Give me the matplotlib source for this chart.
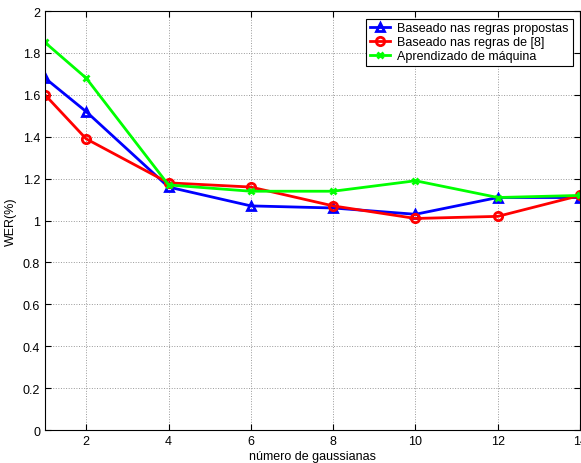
import matplotlib
matplotlib.use("Agg")
import matplotlib.pyplot as plt

plt.rcParams["font.family"] = ["Liberation Sans", "DejaVu Sans"]

# number of gaussians vs WER
gauss = [1, 2, 4, 6, 8, 10, 12, 14]
wer_propostas = [1.68, 1.52, 1.16, 1.07, 1.06, 1.03, 1.11, 1.11]
wer_ref8 = [1.60, 1.39, 1.18, 1.16, 1.07, 1.01, 1.02, 1.12]
wer_maquina = [1.85, 1.68, 1.17, 1.14, 1.14, 1.19, 1.11, 1.12]

labels = ["Baseado nas regras propostas", "Baseado nas regras de [8]",
          "Aprendizado de máquina"]
xticks = [2, 4, 6, 8, 10, 12, 14]
yticks = [0, 0.2, 0.4, 0.6, 0.8, 1, 1.2, 1.4, 1.6, 1.8, 2]

fig = plt.figure(figsize=(5.81, 4.64), dpi=100)
ax = fig.add_axes([0.0775, 0.071, 0.921, 0.903])

ax.plot(gauss, wer_propostas, color="#0000ff", lw=2, marker="^", ms=6,
        mfc="none", mew=2, label=labels[0])
ax.plot(gauss, wer_ref8, color="#ff0000", lw=2, marker="o", ms=6,
        mfc="none", mew=2, label=labels[1])
ax.plot(gauss, wer_maquina, color="#00ff00", lw=2, marker="x", ms=5,
        mew=2, label=labels[2])

ax.set_xlim(1, 14)
ax.set_ylim(0, 2)
ax.set_xticks(xticks)
ax.set_yticks(yticks)
ax.set_yticklabels(["0", "0.2", "0.4", "0.6", "0.8", "1", "1.2", "1.4",
                    "1.6", "1.8", "2"])
ax.tick_params(direction="in", top=True, right=True, labelsize=9, length=4)
ax.grid(True, ls=":", color="#999999", lw=0.7)
ax.set_xlabel("número de gaussianas", fontsize=9, labelpad=2)
ax.set_ylabel("WER(%)", fontsize=9, labelpad=4)
for s in ax.spines.values():
    s.set_linewidth(0.8)

leg = ax.legend(loc="upper right", fontsize=9, fancybox=False, framealpha=1,
                edgecolor="black", borderaxespad=0.6, handlelength=1.6,
                handletextpad=0.6, borderpad=0.3, labelspacing=0.15)
leg.get_frame().set_linewidth(0.8)

fig.savefig("out.png", dpi=100)
